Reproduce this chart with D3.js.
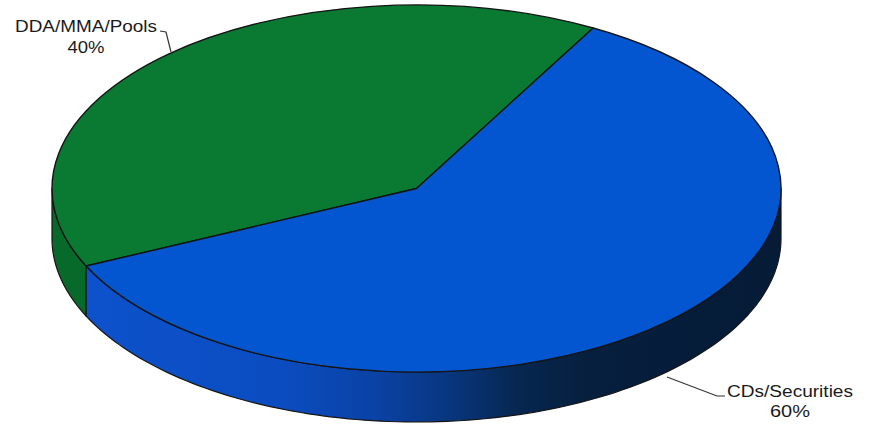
<!DOCTYPE html>
<html>
<head>
<meta charset="utf-8">
<script src="https://cdn.jsdelivr.net/npm/d3@7/dist/d3.min.js"></script>
<style>
  html, body { margin: 0; padding: 0; background: #ffffff; }
  svg { display: block; }
  text { font-family: "Liberation Sans", Arial, sans-serif; fill: #1a1a1a; }
</style>
</head>
<body>
<svg id="chart" width="871" height="428"></svg>
<script>
// Portfolio split
const categories = ["DDA/MMA/Pools", "CDs/Securities"];
const values = [40, 60];
const percentLabels = ["40%", "60%"];

const topColors = ["#0a7a33", "#0456d0"];
const sideColors = ["#086a2a", "url(#blueSide)"];

const cx = 416.5, cy = 188.5, rx = 364.5, ry = 183.5, depth = 50;
const deg = Math.PI / 180;

const svg = d3.select("#chart");

// Side wall gradient for the blue slice (bright blue on the left, navy on the right)
const defs = svg.append("defs");
const g1 = defs.append("linearGradient")
  .attr("id", "blueSide").attr("gradientUnits", "userSpaceOnUse")
  .attr("x1", 86).attr("y1", 0).attr("x2", 781).attr("y2", 0);
[[0, "#0d52cc"], [0.28, "#0b4cc0"], [0.42, "#0a42a4"], [0.52, "#083680"],
 [0.62, "#062750"], [0.72, "#061f3e"], [1, "#051b36"]]
  .forEach(([o, c]) => g1.append("stop").attr("offset", o).attr("stop-color", c));

const pie = d3.pie().sort(null)
  .startAngle(245 * deg)
  .endAngle(245 * deg + 2 * Math.PI);
const arcsData = pie(values);

// point on the top (or bottom) ellipse for a d3 pie angle
const pt = (a, dy = 0) => [cx + rx * Math.sin(a), cy - ry * Math.cos(a) + dy];

// Side walls: only the front half (angles 90°..270°) is visible
const line = d3.line();
const visLo = 90 * deg, visHi = 270 * deg;
const walls = svg.append("g");
arcsData.forEach((d, i) => {
  [-2 * Math.PI, 0, 2 * Math.PI].forEach(shift => {
    const a0 = Math.max(d.startAngle + shift, visLo);
    const a1 = Math.min(d.endAngle + shift, visHi);
    if (a1 <= a0) return;
    const n = 120;
    const topPts = d3.range(n + 1).map(k => pt(a0 + (a1 - a0) * k / n));
    const botPts = d3.range(n + 1).map(k => pt(a1 - (a1 - a0) * k / n, depth));
    walls.append("path")
      .attr("d", line(topPts.concat(botPts)) + "Z")
      .attr("fill", sideColors[i])
      .attr("stroke", "#151515")
      .attr("stroke-width", 1.2)
      .attr("stroke-linejoin", "round");
  });
});

// Top faces
const arc = d3.arc().innerRadius(0).outerRadius(rx);
const faces = svg.append("g")
  .attr("transform", `translate(${cx},${cy}) scale(1,${ry / rx})`);
faces.selectAll("path").data(arcsData).join("path")
  .attr("d", arc)
  .attr("fill", (d, i) => topColors[i])
  .attr("stroke", "#151515")
  .attr("stroke-width", 1.4)
  .attr("stroke-linejoin", "round")
  .attr("vector-effect", "non-scaling-stroke");

// Labels with leader lines
const labels = [
  { idx: 0, x: 86, y1: 32, y2: 53, len1: 142, len2: 37,
    leader: [[160, 31], [166, 32], [171, 52]] },
  { idx: 1, x: 790, y1: 397, y2: 417, len1: 126, len2: 40,
    leader: [[667, 377], [717, 396], [725, 396]] }
];
const lab = svg.append("g");
labels.forEach(l => {
  lab.append("path")
    .attr("d", line(l.leader))
    .attr("fill", "none")
    .attr("stroke", "#333")
    .attr("stroke-width", 1.2);
  lab.append("text")
    .attr("x", l.x).attr("y", l.y1)
    .attr("text-anchor", "middle")
    .attr("font-size", 16)
    .attr("textLength", l.len1).attr("lengthAdjust", "spacingAndGlyphs")
    .text(categories[l.idx]);
  lab.append("text")
    .attr("x", l.x).attr("y", l.y2)
    .attr("text-anchor", "middle")
    .attr("font-size", 16)
    .attr("textLength", l.len2).attr("lengthAdjust", "spacingAndGlyphs")
    .text(percentLabels[l.idx]);
});
</script>
</body>
</html>
